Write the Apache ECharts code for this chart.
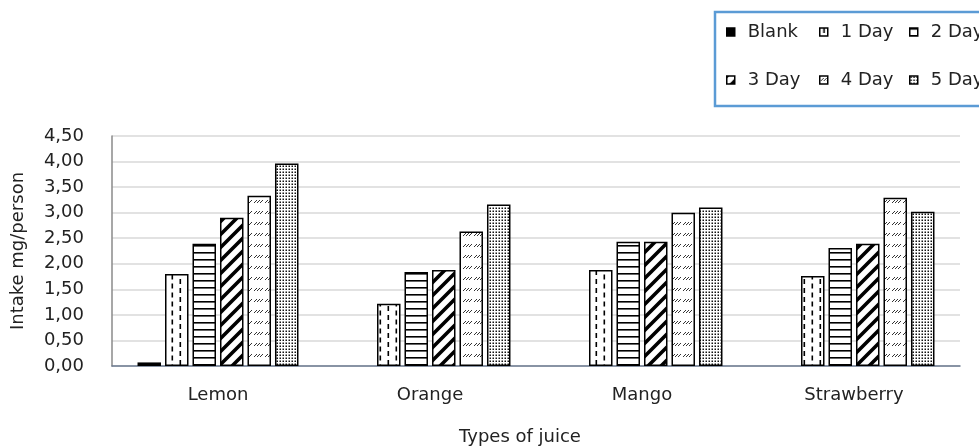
<!DOCTYPE html>
<html>
<head>
<meta charset="utf-8">
<script src="https://cdn.jsdelivr.net/npm/echarts@6/dist/echarts.min.js"></script>
<style>
  html, body { margin: 0; padding: 0; background: #fff; }
  #chart { width: 979px; height: 447px; }
</style>
</head>
<body>
<div id="chart"></div>
<script>
// values
var categories = ['Lemon', 'Orange', 'Mango', 'Strawberry'];
var seriesNames = ['Blank', '1 Day', '2 Day', '3 Day', '4 Day', '5 Day'];
var blank = [0.07, 0, 0, 0];
var day1 = [1.80, 1.22, 1.88, 1.76];
var day2 = [2.39, 1.84, 2.43, 2.31];
var day3 = [2.90, 1.88, 2.43, 2.39];
var day4 = [3.33, 2.63, 3.00, 3.29];
var day5 = [3.96, 3.16, 3.10, 3.02];
var values = [blank, day1, day2, day3, day4, day5];

var FONT = '"DejaVu Sans", sans-serif';

function tile(w, h, draw) {
    var c = document.createElement('canvas');
    c.width = w;
    c.height = h;
    var ctx = c.getContext('2d');
    ctx.fillStyle = '#fff';
    ctx.fillRect(0, 0, w, h);
    draw(ctx, w, h);
    return {image: c, repeat: 'repeat'};
}

// hatch fills, roughly like the office patterns
var fills = [
    '#000',
    tile(16, 9, function (ctx) {
        ctx.fillStyle = '#000';
        ctx.fillRect(3.5, 0, 1.6, 5);
        ctx.fillRect(11.5, 4.5, 1.6, 5);
        ctx.fillRect(11.5, -4.5, 1.6, 5);
    }),
    tile(4, 7, function (ctx) {
        ctx.fillStyle = '#000';
        ctx.fillRect(0, 0, 4, 1.6);
    }),
    tile(13, 13, function (ctx, w, h) {
        ctx.strokeStyle = '#000';
        ctx.lineWidth = 3.6;
        ctx.beginPath();
        ctx.moveTo(-2, h + 2); ctx.lineTo(w + 2, -2);
        ctx.moveTo(-3, 3); ctx.lineTo(3, -3);
        ctx.moveTo(w - 3, h + 3); ctx.lineTo(w + 3, h - 3);
        ctx.stroke();
    }),
    tile(11, 11, function (ctx) {
        ctx.strokeStyle = '#333';
        ctx.lineWidth = 1;
        ctx.beginPath();
        for (var i = 0; i < 3; i++) {
            ctx.moveTo(1 + 3 * i, 5);
            ctx.lineTo(4 + 3 * i, 2);
        }
        ctx.stroke();
    }),
    tile(3, 3, function (ctx) {
        ctx.fillStyle = '#111';
        ctx.fillRect(0.5, 0.5, 1.5, 1.5);
    })
];

var legendX = [726, 819, 909];
var legendY = [23, 71];

var chart = echarts.init(document.getElementById('chart'));

var series = seriesNames.map(function (name, i) {
    return {
        name: name,
        type: 'bar',
        data: values[i],
        barWidth: 23.5,
        barGap: '17%',
        itemStyle: {color: fills[i], borderColor: '#000', borderWidth: i === 0 ? 0 : 1.5},
        emphasis: {disabled: true}
    };
});

var legends = seriesNames.map(function (name, i) {
    return {
        data: [name],
        left: legendX[i % 3],
        top: legendY[Math.floor(i / 3)],
        padding: 0,
        icon: 'rect',
        itemWidth: 8,
        itemHeight: 8,
        itemStyle: {borderColor: '#000', borderWidth: 1.5},
        textStyle: {fontFamily: FONT, fontSize: 18, color: '#222', padding: [0, 0, 0, 8]}
    };
});

chart.setOption({
    animation: false,
    graphic: [{
        type: 'rect',
        z: 0,
        shape: {x: 715, y: 12, width: 300, height: 94},
        style: {fill: '#fff', stroke: '#5b9bd5', lineWidth: 2.5}
    }],
    legend: legends,
    grid: {left: 112, right: 19, top: 136, bottom: 81, outerBoundsMode: 'none', containLabel: false},
    xAxis: {
        type: 'category',
        data: categories,
        name: 'Types of juice',
        nameLocation: 'middle',
        nameGap: 62,
        nameTextStyle: {fontFamily: FONT, fontSize: 18, color: '#222', padding: [0, 32, 0, 0]},
        axisLine: {lineStyle: {color: '#6b7a90', width: 1.5}},
        axisTick: {show: false},
        axisLabel: {fontFamily: FONT, fontSize: 18, color: '#222', margin: 20}
    },
    yAxis: {
        type: 'value',
        min: 0,
        max: 4.5,
        interval: 0.5,
        name: 'Intake mg/person',
        nameLocation: 'middle',
        nameGap: 85,
        nameTextStyle: {fontFamily: FONT, fontSize: 18, color: '#222'},
        axisLine: {show: true, lineStyle: {color: '#8a8a8a', width: 1.5}},
        axisTick: {show: false},
        splitLine: {lineStyle: {color: '#d9d9d9', width: 1.5}},
        axisLabel: {
            fontFamily: FONT, fontSize: 18, color: '#222', margin: 28,
            formatter: function (v) { return v.toFixed(2).replace('.', ','); }
        }
    },
    series: series
});
</script>
</body>
</html>
